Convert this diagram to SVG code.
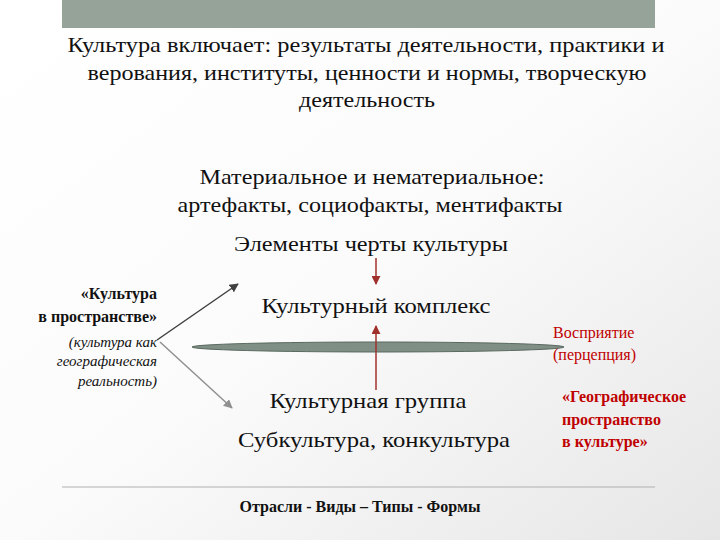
<svg xmlns="http://www.w3.org/2000/svg" width="720" height="540" viewBox="0 0 720 540">
<defs>
<linearGradient id="bg" x1="0" y1="0" x2="1" y2="1"><stop offset="0" stop-color="#ffffff"/><stop offset="0.5" stop-color="#fbfbfb"/><stop offset="1" stop-color="#e6e6e6"/></linearGradient>
<marker id="ar" viewBox="0 0 10 10" refX="9" refY="5" markerWidth="6" markerHeight="6" orient="auto"><path d="M0,0L10,5L0,10z" fill="#a0302c"/></marker>
<marker id="ad" viewBox="0 0 10 10" refX="9" refY="5" markerWidth="6" markerHeight="6" orient="auto"><path d="M0,0L10,5L0,10z" fill="#404040"/></marker>
<marker id="ag" viewBox="0 0 10 10" refX="9" refY="5" markerWidth="6" markerHeight="6" orient="auto"><path d="M0,0L10,5L0,10z" fill="#909090"/></marker>
<style>
.m{font-size:21px;text-anchor:middle}
.l{font-size:16px;text-anchor:end}
.b{font-weight:bold}
.i{font-style:italic;font-size:15px}
.r{fill:#c00000;font-size:16px}
</style>
</defs>
<rect width="720" height="540" fill="url(#bg)"/>
<rect x="62" y="0" width="593" height="28" fill="#95a398"/>
<g id="connectors">
<line x1="376" y1="390" x2="376" y2="326" stroke="#a0302c" stroke-width="1.5" marker-end="url(#ar)"/>
<line x1="376" y1="258" x2="376" y2="284" stroke="#a0302c" stroke-width="1.5" marker-end="url(#ar)"/>
<line x1="157" y1="340" x2="238" y2="284" stroke="#404040" stroke-width="1.5" marker-end="url(#ad)"/>
<line x1="160" y1="342" x2="232" y2="408" stroke="#909090" stroke-width="1.5" marker-end="url(#ag)"/>
</g>
<g id="ellipse"><ellipse cx="378" cy="347" rx="186" ry="5" fill="#7f8f85" stroke="#5a6a60" stroke-width="1"/><line x1="376" y1="342" x2="376" y2="352" stroke="#a0302c" stroke-width="1.5"/></g>
<g font-family="Liberation Serif, DejaVu Serif, serif" fill="#111">
<g id="title"><text class="m" x="366" y="52" textLength="597" lengthAdjust="spacingAndGlyphs">Культура включает: результаты деятельности, практики и</text><text class="m" x="367" y="80" textLength="559" lengthAdjust="spacingAndGlyphs">верования, институты, ценности и нормы, творческую</text><text class="m" x="367" y="107" textLength="136" lengthAdjust="spacingAndGlyphs">деятельность</text></g>
<g id="material"><text class="m" x="372" y="184" textLength="345" lengthAdjust="spacingAndGlyphs">Материальное и нематериальное:</text><text class="m" x="370" y="212" textLength="385" lengthAdjust="spacingAndGlyphs">артефакты, социофакты, ментифакты</text></g>
<g id="elements"><text class="m" x="371" y="251" textLength="274" lengthAdjust="spacingAndGlyphs">Элементы черты культуры</text></g>
<g id="complex"><text class="m" x="376" y="313" textLength="229" lengthAdjust="spacingAndGlyphs">Культурный комплекс</text></g>
<g id="group"><text class="m" x="368" y="408" textLength="197" lengthAdjust="spacingAndGlyphs">Культурная группа</text></g>
<g id="sub"><text class="m" x="374" y="447" textLength="272" lengthAdjust="spacingAndGlyphs">Субкультура, конкультура</text></g>
<g id="left"><text class="l b" x="157" y="299">«Культура</text><text class="l b" x="157" y="322">в пространстве»</text><text class="l i" x="157" y="347">(культура как</text><text class="l i" x="157" y="366">географическая</text><text class="l i" x="157" y="386">реальность)</text></g>
<g id="perception"><text class="r" x="553" y="338">Восприятие</text><text class="r" x="553" y="360">(перцепция)</text></g>
<g id="geo"><text class="r b" x="562" y="402">«Географическое</text><text class="r b" x="562" y="425">пространство</text><text class="r b" x="562" y="447">в культуре»</text></g>
<g id="footer"><text x="360" y="512" font-size="16" font-weight="bold" text-anchor="middle">Отрасли - Виды – Типы - Формы</text></g>
</g>
<line x1="62" y1="487" x2="655" y2="487" stroke="#b0b0b0" stroke-width="1"/>
</svg>
